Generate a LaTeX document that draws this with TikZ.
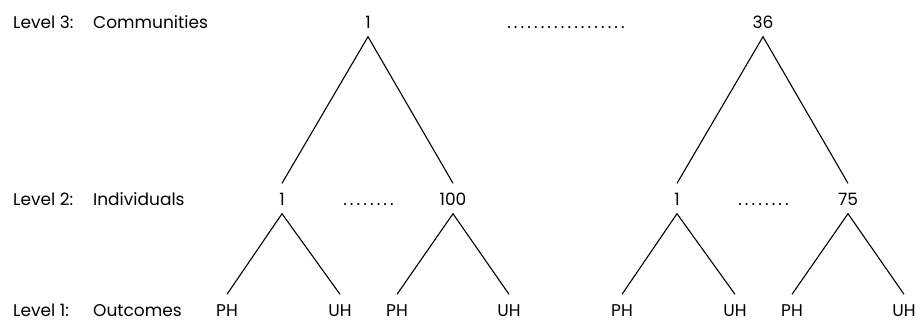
\documentclass[tikz,border=0pt]{standalone}
\usepackage{fontspec}
\setmainfont{Poppins}
\newcommand\dotrun[1]{\hbox to #1\dimexpr6.7pt\relax{\xleaders\hbox to 6.7pt{\hss.\hss}\hfill}}
\begin{document}
\begin{tikzpicture}[x=1pt,y=-1pt,
  every node/.style={font=\fontsize{17}{20}\selectfont},
  num/.style={anchor=base,inner xsep=0pt,inner ysep=8.5pt,text height=13pt,text depth=0pt},
  lvl/.style={anchor=base west,inner sep=0pt},
  dotsnode/.style={anchor=base,inner sep=0pt},
  edge/.style={line width=1.1pt}]
\useasboundingbox (0,0) rectangle (919,322);
% level labels
\node[lvl] (L3) at (13,28) {\makebox[80pt][l]{Level 3:}Communities};
\node[lvl] (L2) at (13,205) {\makebox[80pt][l]{Level 2:}Individuals};
\node[lvl] (L1) at (13,316) {\makebox[80pt][l]{Level 1:}Outcomes};
% level 3
\node[num] (c1) at (368,28) {1};
\node[num] (c36) at (763,28) {36};
\node[dotsnode] (d3) at (566,28) {\dotrun{18}};
% level 2
\node[num] (i1) at (282,205) {1};
\node[num] (i100) at (453,205) {100};
\node[num] (j1) at (677,205) {1};
\node[num] (j75) at (848,205) {75};
\node[dotsnode] (d2a) at (368.5,205) {\dotrun{8}};
\node[dotsnode] (d2b) at (763.5,205) {\dotrun{8}};
% level 1
\node[num] (o1) at (227,316) {PH};
\node[num] (o2) at (340,316) {UH};
\node[num] (o3) at (397,316) {PH};
\node[num] (o4) at (509,316) {UH};
\node[num] (o5) at (622,316) {PH};
\node[num] (o6) at (735,316) {UH};
\node[num] (o7) at (792,316) {PH};
\node[num] (o8) at (904,316) {UH};
% edges
\draw[edge] (i1.north) -- (c1.south) -- (i100.north);
\draw[edge] (j1.north) -- (c36.south) -- (j75.north);
\draw[edge] (o1.north) -- (i1.south) -- (o2.north);
\draw[edge] (o3.north) -- (i100.south) -- (o4.north);
\draw[edge] (o5.north) -- (j1.south) -- (o6.north);
\draw[edge] (o7.north) -- (j75.south) -- (o8.north);
\end{tikzpicture}
\end{document}
